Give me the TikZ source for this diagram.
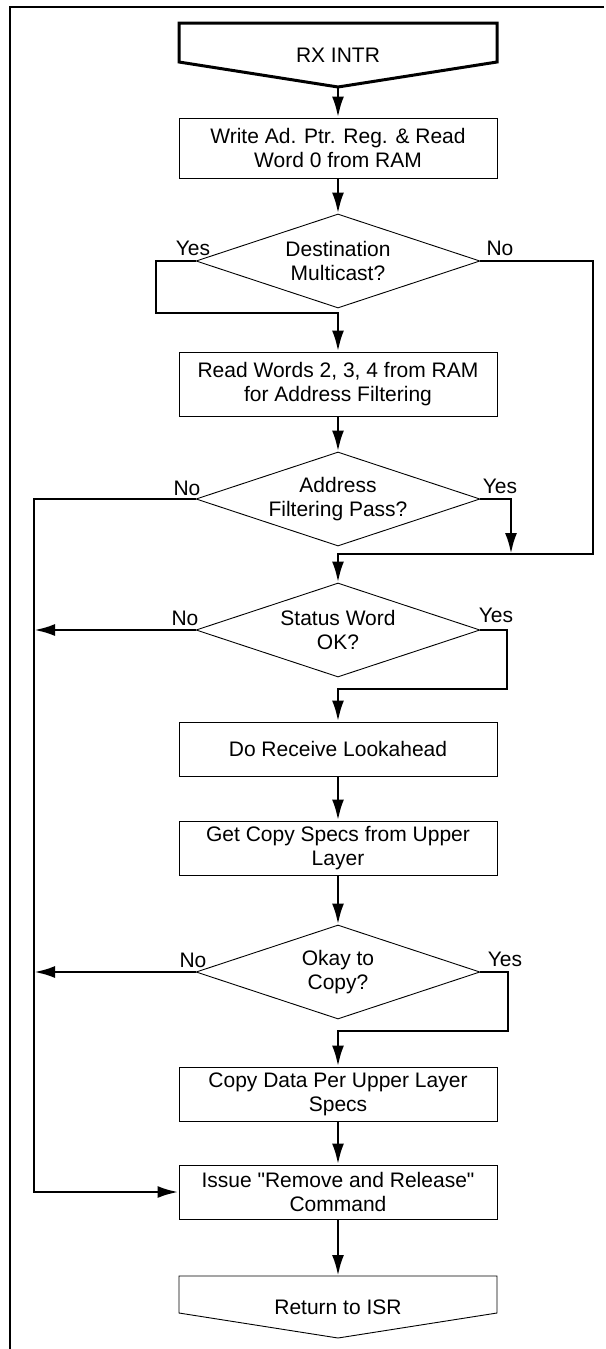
\documentclass[tikz,border=0pt]{standalone}
\usepackage{fontspec}
\setmainfont{Liberation Sans}
\usepackage{tikz}
\usetikzlibrary{arrows.meta, shapes.geometric, positioning}
\newcommand{\dq}{\XeTeXglyph\XeTeXcharglyph"22\relax}

\begin{document}
\begin{tikzpicture}[x=1pt,y=-1pt,>={Latex[length=21pt,width=12pt]},
  font=\fontsize{21}{24}\selectfont,
  stepbox/.style={draw,line width=.9pt,minimum width=318pt,inner sep=0pt,align=center},
  ask/.style={diamond,draw,line width=.9pt,minimum width=284pt,minimum height=94pt,inner sep=0pt},
  flow/.style={line width=2.9pt}]
\useasboundingbox (0,0) rectangle (605,1349);
\draw[line width=2.4pt] (604,7)--(10,7)--(10,1349);
% start and end
\draw[line width=3pt] (179,23)--(497,23)--(497,62)--(338,87)--(179,62)--cycle;
\node (rx) at (338,55) {RX INTR};
\coordinate (rxtip) at (338,87);
\draw[line width=.9pt] (179,1276)--(497,1276)--(497,1313)--(338,1338)--(179,1313)--cycle;
\node (isr) at (338,1307) {Return to ISR};
\coordinate (isrtop) at (338,1276);
% boxes
\node[stepbox,minimum height=60pt] (wr) at (338,148) {Write Ad. Ptr. Reg. \& Read\\Word 0 from RAM};
\node[stepbox,minimum height=64pt] (rd) at (338,384) {Read Words 2, 3, 4 from RAM\\for Address Filtering};
\node[stepbox,minimum height=54pt] (look) at (338,749) {Do Receive Lookahead};
\node[stepbox,minimum height=54pt] (spec) at (338,848) {Get Copy Specs from Upper\\Layer};
\node[stepbox,minimum height=54pt] (copy) at (338,1094) {Copy Data Per Upper Layer\\Specs};
\node[stepbox,minimum height=54pt] (rel) at (338,1192) {Issue \dq Remove and Release\dq\\Command};
% decisions
\node[ask] (mc) at (338,261) {};
\node[align=center] at (mc) {Destination\\Multicast?};
\node[ask] (af) at (338,499) {};
\node[align=center] at (af) {Address\\Filtering Pass?};
\node[ask] (st) at (338,630) {};
\node[align=center] at (st) {Status Word\\OK?};
\node[ask] (ok) at (338,972) {};
\node[align=center] at (ok) {Okay to\\Copy?};
\node (mcy) at (193,248) {Yes};
\node (mcn) at (500,248) {No};
\node (afn) at (187,488) {No};
\node (afy) at (500,486) {Yes};
\node (stn) at (185,618) {No};
\node (sty) at (496,615) {Yes};
\node (okn) at (193,960) {No};
\node (oky) at (505,959) {Yes};
% connectors
\coordinate (bus) at (34,0);
\coordinate (join) at (511,554);
\draw[flow,->] (rxtip)--(wr);
\draw[flow,->] (wr)--(mc);
\draw[flow,->] (mc.west)-|(156,313)-|(rd.north);
\draw[flow,->] (mc.east)-|(593,554)-|(st.north);
\draw[flow,->] (rd)--(af);
\draw[flow,->] (af.east)-|(join);
\draw[flow,->] (af.west)-|(bus|-rel.west)--(rel.west);
\draw[flow,->] (st.west)--(bus|-st.west);
\draw[flow,->] (st.east)-|(507,689)-|(look.north);
\draw[flow,->] (look)--(spec);
\draw[flow,->] (spec)--(ok);
\draw[flow,->] (ok.west)--(bus|-ok.west);
\draw[flow,->] (ok.east)-|(508,1031)-|(copy.north);
\draw[flow,->] (copy)--(rel);
\draw[flow,->] (rel)--(isrtop);
\end{tikzpicture}
\end{document}
